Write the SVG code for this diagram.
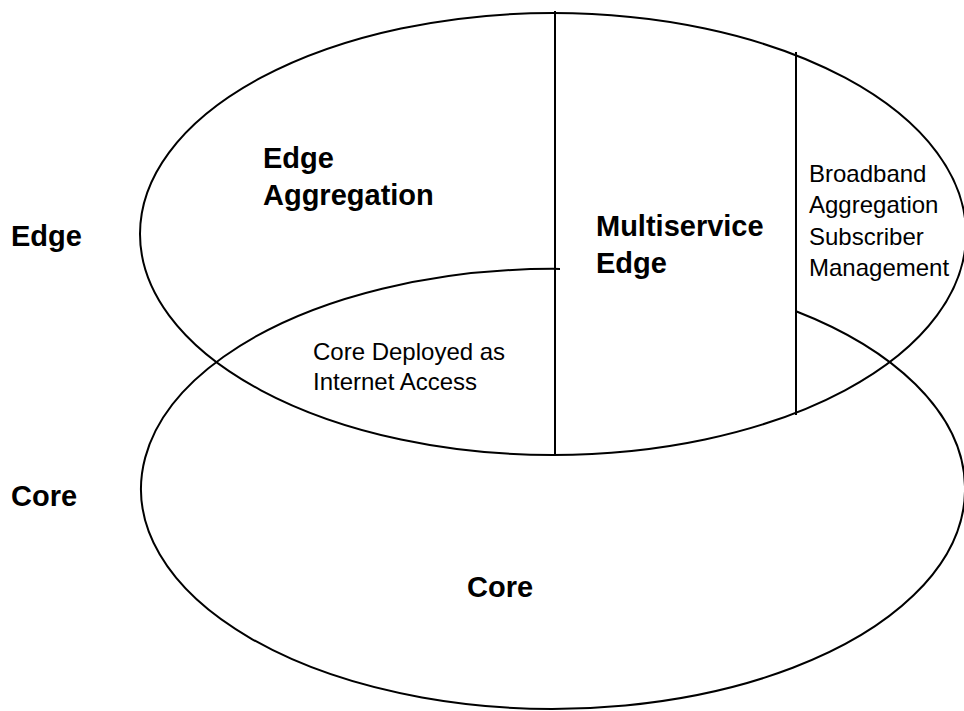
<svg xmlns="http://www.w3.org/2000/svg" width="964" height="711" viewBox="0 0 964 711">
  <style>
    .shape { fill: none; stroke: #000; stroke-width: 2; }
    .line { stroke: #000; stroke-width: 2; fill: none; }
    .bold { font-family: "Liberation Sans", Arial, sans-serif; font-weight: bold; font-size: 29px; fill: #000; }
    .reg { font-family: "Liberation Sans", Arial, sans-serif; font-size: 24px; fill: #000; }
  </style>
  <rect x="0" y="0" width="964" height="711" fill="#fff"/>
  <g id="edge-ellipse">
    <ellipse class="shape" cx="553" cy="234" rx="413" ry="221"/>
  </g>
  <g id="core-ellipse">
    <path class="shape" d="M 560 268.9 A 412 220 0 1 0 796 311.2"/>
  </g>
  <g id="dividers">
    <line class="line" x1="555" y1="11" x2="555" y2="456"/>
    <line class="line" x1="796" y1="52" x2="796" y2="415"/>
  </g>
  <g id="label-edge">
    <text class="bold" x="11" y="246">Edge</text>
  </g>
  <g id="label-core">
    <text class="bold" x="11" y="506">Core</text>
  </g>
  <g id="edge-aggregation">
    <text class="bold" x="263" y="168">Edge</text>
    <text class="bold" x="263" y="205">Aggregation</text>
  </g>
  <g id="multiservice-edge">
    <text class="bold" x="596" y="236">Multiservice</text>
    <text class="bold" x="596" y="273">Edge</text>
  </g>
  <g id="broadband">
    <text class="reg" x="809" y="182">Broadband</text>
    <text class="reg" x="809" y="213">Aggregation</text>
    <text class="reg" x="809" y="245">Subscriber</text>
    <text class="reg" x="809" y="276">Management</text>
  </g>
  <g id="core-internet">
    <text class="reg" x="313" y="360">Core Deployed as</text>
    <text class="reg" x="313" y="390">Internet Access</text>
  </g>
  <g id="core">
    <text class="bold" x="467" y="597">Core</text>
  </g>
</svg>
